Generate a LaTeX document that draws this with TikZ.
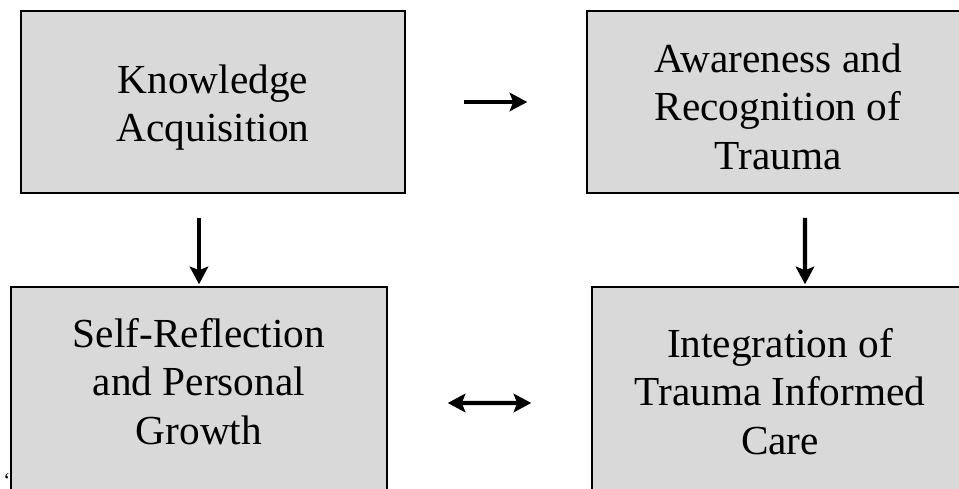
\documentclass[tikz,border=0pt]{standalone}
\usepackage{fontspec}
\setmainfont{Liberation Serif}
\usetikzlibrary{arrows.meta}

% lines of a box, lowered or raised inside it
\newcommand{\stagetext}[2]{\raisebox{#1}[\height][\depth]{\begin{tabular}{@{}c@{}}#2\end{tabular}}}

\begin{document}
\begin{tikzpicture}[x=0.02cm, y=-0.02cm,
    stage/.style={draw=black, line width=0.9pt, fill=black!15, align=center,
      font=\fontsize{23.5}{27.8}\selectfont, inner sep=0pt},
    flow/.style={line width=2.4pt, -{Stealth[length=10pt, width=10.5pt, inset=2pt]}}]
  \useasboundingbox (0,0) rectangle (959,489);
  \clip (0,0) rectangle (959,489);

  \node [stage, minimum width=7.68cm, minimum height=3.64cm] (know) at (213,102)
    {\stagetext{-0.114cm}{Knowledge\\Acquisition}};
  \node [stage, minimum width=7.64cm, minimum height=3.64cm] (aware) at (778,102)
    {\stagetext{-0.184cm}{Awareness and\\Recognition of\\Trauma}};
  \node [stage, minimum width=7.52cm, minimum height=4.08cm] (self) at (199,389)
    {\stagetext{0.056cm}{Self-Reflection\\and Personal\\Growth}};
  \node [stage, minimum width=7.52cm, minimum height=4.44cm] (integ) at (780,398)
    {\stagetext{0.036cm}{Integration of\\Trauma Informed\\Care}};

  \draw [flow, shorten <=1.16cm, shorten >=1.18cm] (know.east) -- (aware.west);
  \draw [flow, shorten <=0.48cm, shorten >=0.04cm] (know.south -| self.north) -- (self.north);
  \draw [flow, shorten <=0.48cm, shorten >=0.04cm] ([xshift=0.54cm]aware.south) -- ([xshift=0.5cm]integ.north);
  \draw [flow, {Stealth[length=10pt, width=10.5pt, inset=2pt]}-{Stealth[length=10pt, width=10.5pt, inset=2pt]},
    shorten <=1.2cm, shorten >=1.2cm] ([yshift=-0.28cm]self.east) -- ([yshift=-0.1cm]integ.west);

  \node [font=\fontsize{12}{14}\selectfont, inner sep=0pt] (tick) at (7,480) {‘};
\end{tikzpicture}
\end{document}
